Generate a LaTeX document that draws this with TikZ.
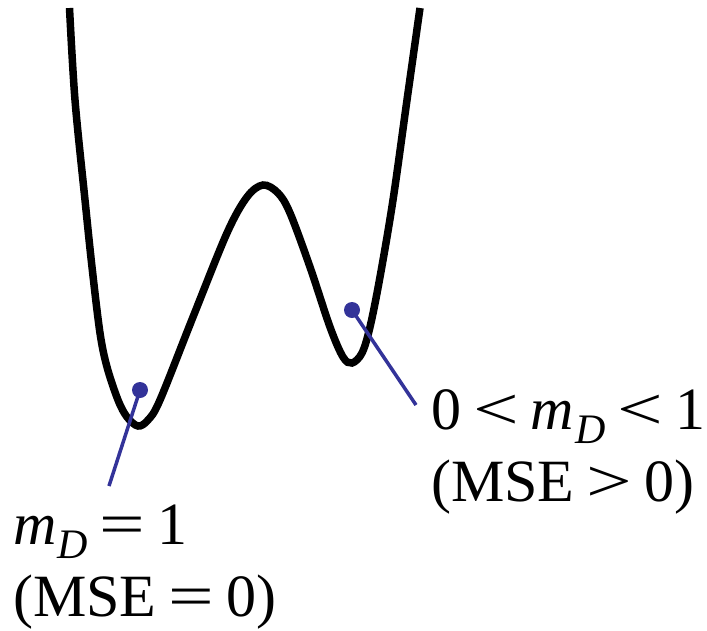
\documentclass[tikz,border=0pt]{standalone}
\usepackage{fontspec}
\usepackage{graphicx}
\setmainfont{Liberation Serif}
\definecolor{dotblue}{HTML}{333399}
\newcommand{\mDsub}{{\itshape m}\kern1pt\raisebox{-14pt}{\fontsize{42}{42}\selectfont\itshape D}}
\newcommand{\rel}[1]{\hspace{0.2em}\scalebox{1.35}[1]{#1}\hspace{0.2em}}
\begin{document}
\begin{tikzpicture}[x=1pt,y=-1pt,
  curve/.style={line width=7.5pt,black},
  pin/.style={line width=3.5pt,dotblue},
  dot/.style={circle,fill=dotblue,inner sep=0pt,minimum size=16pt},
  lbl/.style={anchor=base west,inner sep=0pt,font=\fontsize{60}{72}\selectfont}]
\useasboundingbox (0,0) rectangle (707,630);
\draw[curve] plot[smooth,tension=0.55] coordinates {
 (69.5,8) (75,100) (85,200) (92,267) (100,333) (107,367) (118,400) (127,417) (138,426)
 (148,420) (160,400) (193,317) (227,233) (247,197) (263,185) (278,193) (290,213)
 (310,267) (330,327) (343,357) (352,363) (362,353) (370,327) (380,277) (393,200) (407,100) (420,8)};
\node[dot] (d1) at (140,390) {};
\node[dot] (d2) at (352,310) {};
\coordinate (e1) at (109,486);
\coordinate (e2) at (416,405);
\draw[pin] (d1.center) -- (e1);
\draw[pin] (d2.center) -- (e2);
\node[lbl] (l1) at (13,544) {\mDsub\rel{=}1};
\node[lbl] (l2) at (13,616) {(MSE\rel{=}0)};
\node[lbl] (r1) at (431,429) {0\rel{\textless}\mDsub\rel{\textless}1};
\node[lbl] (r2) at (431,501) {(MSE\rel{\textgreater}0)};
\end{tikzpicture}
\end{document}
